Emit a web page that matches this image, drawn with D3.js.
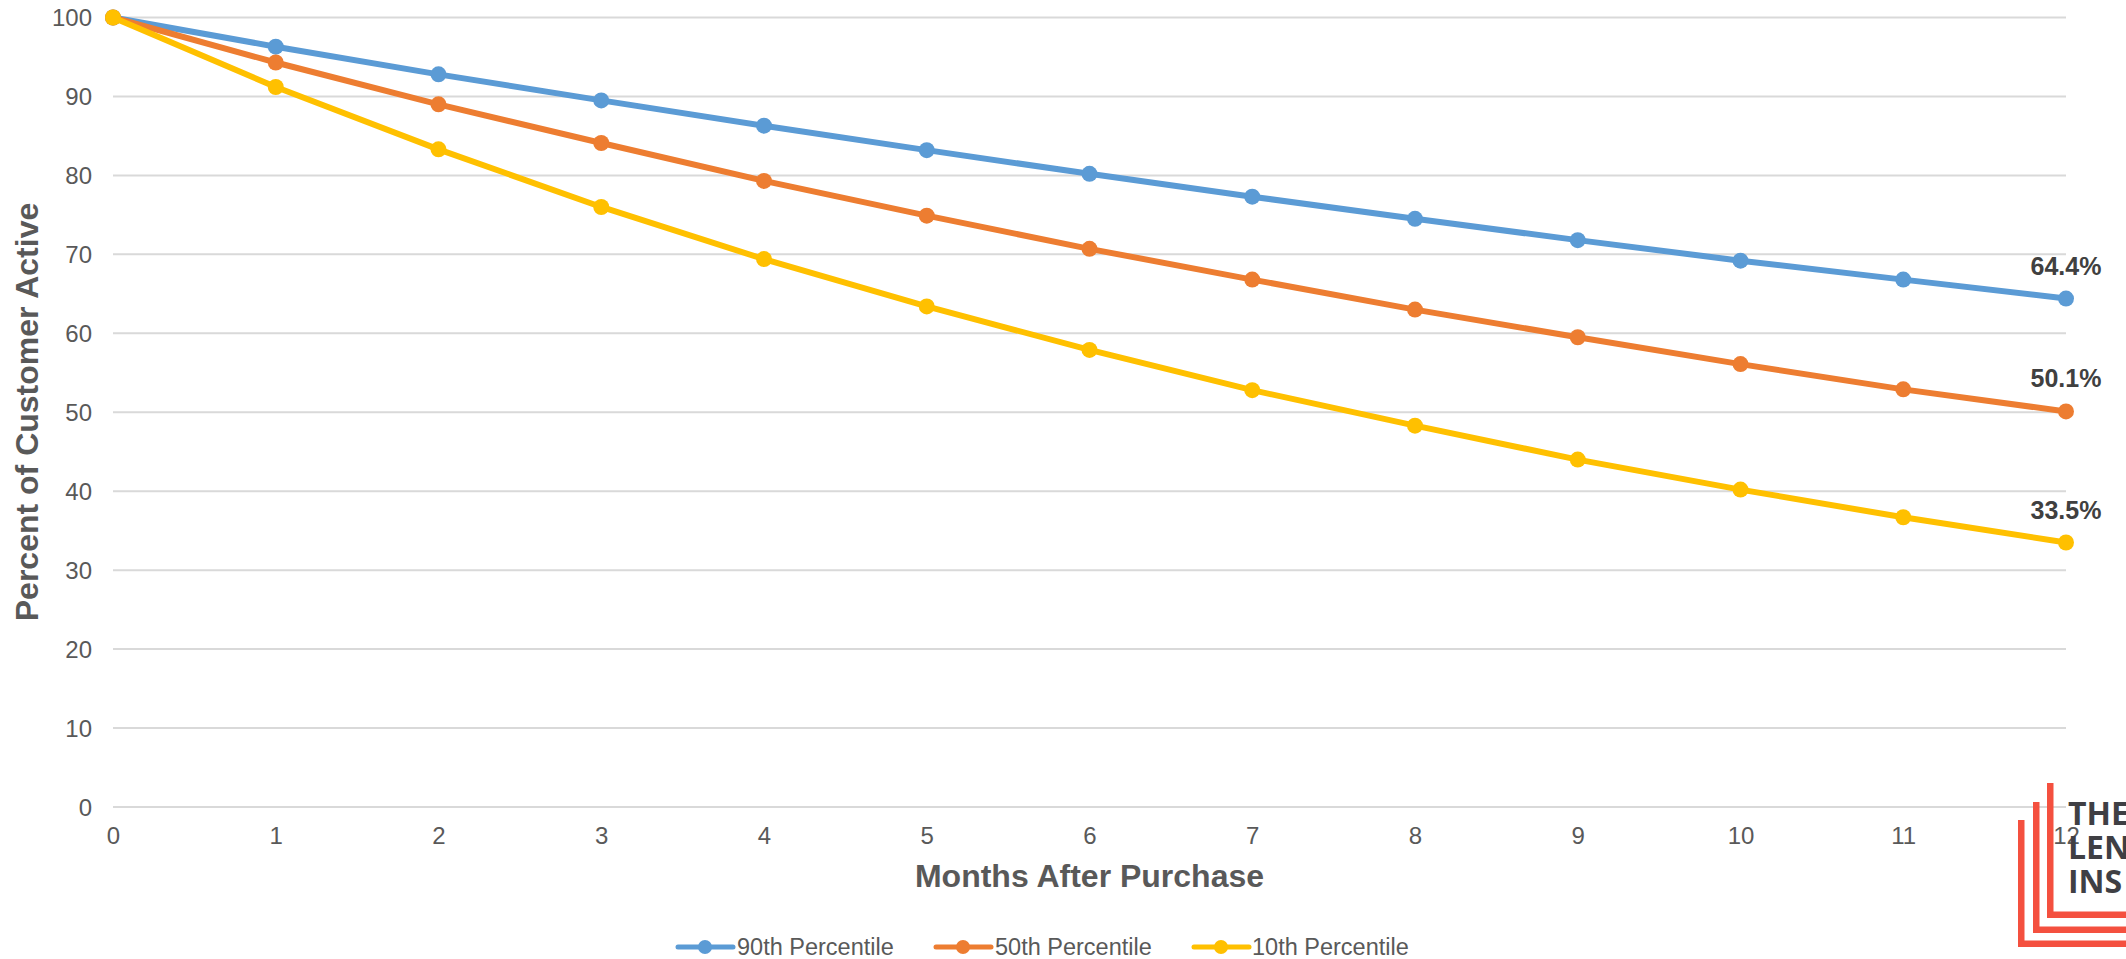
<!DOCTYPE html>
<html>
<head>
<meta charset="utf-8">
<script src="https://cdn.jsdelivr.net/npm/d3@7/dist/d3.min.js"></script>
<style>
  html, body { margin: 0; padding: 0; background: #ffffff; }
  svg { display: block; }
</style>
</head>
<body>
<svg id="chart" width="2126" height="959"></svg>
<script>
// Months since purchase
const months = [0, 1, 2, 3, 4, 5, 6, 7, 8, 9, 10, 11, 12];

// Share of customers still active (%), by percentile
const p90 = [100, 96.3, 92.8, 89.5, 86.3, 83.2, 80.2, 77.3, 74.5, 71.8, 69.2, 66.8, 64.4];
const p50 = [100, 94.3, 89.0, 84.1, 79.3, 74.9, 70.7, 66.8, 63.0, 59.5, 56.1, 52.9, 50.1];
const p10 = [100, 91.2, 83.3, 76.0, 69.4, 63.4, 57.9, 52.8, 48.3, 44.0, 40.2, 36.7, 33.5];

const seriesNames = ["90th Percentile", "50th Percentile", "10th Percentile"];
const yTicks = [0, 10, 20, 30, 40, 50, 60, 70, 80, 90, 100];
const endLabels = ["64.4%", "50.1%", "33.5%"];

const colors = ["#5B9BD5", "#ED7D31", "#FFC000"];
const seriesValues = [p90, p50, p10];

const svg = d3.select("#chart");
const font = "'Liberation Sans', Arial, sans-serif";

const x = d3.scaleLinear().domain([0, 12]).range([113, 2066]);
const y = d3.scaleLinear().domain([0, 100]).range([807, 17.5]);

// Horizontal gridlines
svg.append("g")
  .selectAll("line")
  .data(yTicks)
  .join("line")
  .attr("x1", x(0)).attr("x2", x(12))
  .attr("y1", d => y(d)).attr("y2", d => y(d))
  .attr("stroke", "#D9D9D9")
  .attr("stroke-width", 2);

// Y axis labels
const yAxis = d3.axisLeft(y).tickValues(yTicks).tickSize(0).tickPadding(0);
const gy = svg.append("g").attr("transform", "translate(92,0)").call(yAxis);
gy.select(".domain").remove();
gy.selectAll("text")
  .attr("font-family", font)
  .attr("font-size", 24)
  .attr("fill", "#595959")
  .attr("dy", "0.35em");

// X axis labels
const xAxis = d3.axisBottom(x).tickValues(months).tickSize(0).tickPadding(0).tickFormat(d3.format("d"));
const gx = svg.append("g").attr("transform", "translate(0,827)").call(xAxis);
gx.select(".domain").remove();
gx.selectAll("text")
  .attr("font-family", font)
  .attr("font-size", 24)
  .attr("fill", "#595959")
  .attr("dy", "0.72em");

// Axis titles
svg.append("text")
  .attr("x", x(6)).attr("y", 887)
  .attr("text-anchor", "middle")
  .attr("font-family", font)
  .attr("font-size", 32)
  .attr("font-weight", "bold")
  .attr("fill", "#595959")
  .text("Months After Purchase");

svg.append("text")
  .attr("transform", "translate(38,412) rotate(-90)")
  .attr("text-anchor", "middle")
  .attr("font-family", font)
  .attr("font-size", 32)
  .attr("font-weight", "bold")
  .attr("fill", "#595959")
  .text("Percent of Customer Active");

// Lines and markers
const line = d3.line().x((d, i) => x(months[i])).y(d => y(d));

seriesValues.forEach((vals, s) => {
  const g = svg.append("g");
  g.append("path")
    .datum(vals)
    .attr("d", line)
    .attr("fill", "none")
    .attr("stroke", colors[s])
    .attr("stroke-width", 6)
    .attr("stroke-linejoin", "round")
    .attr("stroke-linecap", "round");
  g.selectAll("circle")
    .data(vals)
    .join("circle")
    .attr("cx", (d, i) => x(months[i]))
    .attr("cy", d => y(d))
    .attr("r", 8)
    .attr("fill", colors[s]);
});

// End-of-period value labels
seriesValues.forEach((vals, s) => {
  const last = vals.length - 1;
  svg.append("text")
    .attr("x", x(months[last]))
    .attr("y", y(vals[last]) - 24)
    .attr("text-anchor", "middle")
    .attr("font-family", font)
    .attr("font-size", 25)
    .attr("font-weight", "bold")
    .attr("fill", "#404040")
    .text(endLabels[s]);
});

// Legend
const legendItems = [
  { lx: 678, tx: 737 },
  { lx: 936, tx: 995 },
  { lx: 1194, tx: 1252 }
];
const legendY = 947;
legendItems.forEach((it, s) => {
  const g = svg.append("g");
  g.append("line")
    .attr("x1", it.lx).attr("x2", it.lx + 55)
    .attr("y1", legendY).attr("y2", legendY)
    .attr("stroke", colors[s])
    .attr("stroke-width", 5)
    .attr("stroke-linecap", "round");
  g.append("circle")
    .attr("cx", it.lx + 27).attr("cy", legendY).attr("r", 7)
    .attr("fill", colors[s]);
  g.append("text")
    .attr("x", it.tx).attr("y", 955)
    .attr("font-family", font)
    .attr("font-size", 23.5)
    .attr("fill", "#595959")
    .text(seriesNames[s]);
});

// Brand mark in the lower-right corner
const brand = svg.append("g");
const red = "#F4503F";
const bars = [
  { bx: 2047, top: 783, bottom: 918 },
  { bx: 2033, top: 802, bottom: 933 },
  { bx: 2018, top: 820, bottom: 947 }
];
bars.forEach(b => {
  brand.append("rect").attr("x", b.bx).attr("y", b.top).attr("width", 6.5).attr("height", b.bottom - b.top).attr("fill", red);
  brand.append("rect").attr("x", b.bx).attr("y", b.bottom - 6.5).attr("width", 2126 - b.bx).attr("height", 6.5).attr("fill", red);
});
[["THE", 825], ["LEN", 859], ["INS", 893]].forEach(([t, by]) => {
  brand.append("text")
    .attr("x", 2068).attr("y", by)
    .attr("font-family", "'Open Sans', 'Noto Sans', sans-serif")
    .attr("font-size", 32)
    .attr("font-weight", "bold")
    .attr("fill", "#3F3F44")
    .text(t);
});
</script>
</body>
</html>
